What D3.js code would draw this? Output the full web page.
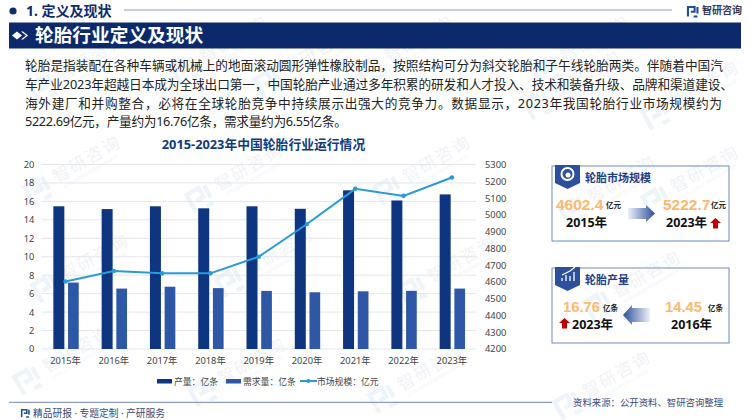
<!DOCTYPE html>
<html><head><meta charset="utf-8">
<script src="https://cdn.jsdelivr.net/npm/d3@7/dist/d3.min.js"></script>
<style>html,body{margin:0;padding:0;background:#fff}svg{display:block}
text{font-family:"Noto Sans","Noto Sans CJK SC",sans-serif}</style></head><body>
<svg id="c" width="750" height="420"></svg>
<script>
const years=["2015年","2016年","2017年","2018年","2019年","2020年","2021年","2022年","2023年"];
const production=[15.47,15.17,15.47,15.25,15.47,15.2,17.2,16.1,16.76];
const demand=[7.2,6.55,6.75,6.6,6.3,6.15,6.25,6.3,6.55];
const marketSize=[4602.4,4665,4651,4651,4750,4945,5155,5113,5222.7];
const leftTicks=[0,2,4,6,8,10,12,14,16,18,20];
const rightTicks=[4200,4300,4400,4500,4600,4700,4800,4900,5000,5100,5200,5300];
const seriesNames=["产量：亿条","需求量：亿条","市场规模：亿元"];
const paragraph=[
"轮胎是指装配在各种车辆或机械上的地面滚动圆形弹性橡胶制品，按照结构可分为斜交轮胎和子午线轮胎两类。伴随着中国汽",
"车产业2023年超越日本成为全球出口第一，中国轮胎产业通过多年积累的研发和人才投入、技术和装备升级、品牌和渠道建设、",
"海外建厂和并购整合，必将在全球轮胎竞争中持续展示出强大的竞争力。数据显示，2023年我国轮胎行业市场规模约为",
"5222.69亿元，产量约为16.76亿条，需求量约为6.55亿条。"];
const paragraphWidths=[698,708,697,322];
const marks=[[217,50],[402,50],[578,50],[75,68],[300,62],[570,85],[688,95],[70,170],[232,178],[420,170],[605,190],[688,180],[78,268],[262,262],[445,270],[630,285],[60,360],[235,372],[415,378],[600,385]];

const svg=d3.select("#c");
const defs=svg.append("defs");
function grad(id,x1,x2,c1,o1,c2,o2){const g=defs.append("linearGradient").attr("id",id).attr("x1",x1).attr("x2",x2).attr("y1",0).attr("y2",0);
 g.append("stop").attr("offset",0).attr("stop-color",c1).attr("stop-opacity",o1);
 g.append("stop").attr("offset",1).attr("stop-color",c2).attr("stop-opacity",o2);}
grad("gr",0,1,"#2c4f9e",.08,"#2c4f9e",1);
grad("gl",1,0,"#2c4f9e",.08,"#2c4f9e",1);

function logo(g,x,y,s,c){
 g.append("path").attr("transform",`translate(${x},${y}) scale(${s})`).attr("fill","none").attr("stroke",c).attr("stroke-width",2.2)
  .attr("d","M1 11V1H8V6H4M7 11H11M11 8V1");
}
// watermark
const wm=svg.append("g");
marks.forEach(([x,y])=>{
 const g=wm.append("g").attr("transform",`translate(${x},${y}) rotate(-30)`);
 logo(g,-50,-10,2,"#eef4fa");
 g.append("text").attr("x",-18).attr("y",5).attr("font-size",17).attr("fill","#f1f3f7").attr("letter-spacing",2).text("智研咨询");
 g.append("text").attr("x",-14).attr("y",13).attr("font-size",4).attr("fill","#f1f3f7").text("INTELLIGENCE RESEARCH GROUP");
});

// header
svg.append("circle").attr("cx",13).attr("cy",11).attr("r",3.6).attr("fill","#0d2b6e");
svg.append("text").attr("x",26).attr("y",16).attr("font-size",14).attr("font-weight",700).attr("fill","#0d2b6e").text("1. 定义及现状");
svg.append("line").attr("x1",124).attr("x2",672).attr("y1",10).attr("y2",10).attr("stroke","#8c9cc6").attr("stroke-width",1);
logo(svg,687,6,.95,"#1c4fa0");
svg.append("text").attr("x",702).attr("y",14).attr("font-size",10).attr("font-weight",700).attr("fill","#333b55").text("智研咨询");
svg.append("rect").attr("x",9).attr("y",22.5).attr("width",732).attr("height",26).attr("fill","#0c2a6b");
svg.append("path").attr("fill","#fff").attr("d","M12 35.5l5-4 5 4-5 4z M21 31.5h2l5 4-5 4h-2l5-4z");
svg.append("text").attr("x",35).attr("y",42).attr("font-size",18.7).attr("font-weight",700).attr("fill","#fff").text("轮胎行业定义及现状");
paragraph.forEach((t,i)=>svg.append("text").attr("x",25).attr("y",70.3+i*18.6).attr("font-size",12.7).attr("fill","#222")
 .attr("textLength",paragraphWidths[i]).attr("lengthAdjust","spacing").text(t));

// chart
svg.append("text").attr("x",263.5).attr("y",149).attr("text-anchor","middle").attr("font-size",12.8).attr("font-weight",700).attr("fill","#103a80").text("2015-2023年中国轮胎行业运行情况");
const x=d3.scaleBand().domain(years).range([41.4,476]);
const yL=d3.scaleLinear().domain([0,20]).range([349,164.5]);
const yR=d3.scaleLinear().domain([4200,5300]).range([349,164.5]);
const grid=svg.append("g");
grid.selectAll("line").data(leftTicks).join("line").attr("x1",41.4).attr("x2",476)
 .attr("y1",d=>yL(d)).attr("y2",d=>yL(d)).attr("stroke","#e4e6ec").attr("stroke-width",1);
const cx=d=>x(d)+x.bandwidth()/2;
svg.append("g").selectAll("rect").data(years).join("rect").attr("x",d=>cx(d)-12.2).attr("width",11)
 .attr("y",(d,i)=>yL(production[i])).attr("height",(d,i)=>yL(0)-yL(production[i])).attr("fill","#0d3580");
svg.append("g").selectAll("rect").data(years).join("rect").attr("x",d=>cx(d)+2.5).attr("width",10.7)
 .attr("y",(d,i)=>yL(demand[i])).attr("height",(d,i)=>yL(0)-yL(demand[i])).attr("fill","#2e58a6");
const line=d3.line().x((d,i)=>cx(years[i])).y(d=>yR(d));
svg.append("path").attr("d",line(marketSize)).attr("fill","none").attr("stroke","#2a9ad8").attr("stroke-width",2);
svg.append("g").selectAll("circle").data(marketSize).join("circle").attr("cx",(d,i)=>cx(years[i])).attr("cy",d=>yR(d)).attr("r",2.3).attr("fill","#2a9ad8");
function styleAxis(g){g.select(".domain").remove();g.selectAll("line").remove();g.selectAll("text").attr("font-size",9.3).attr("fill","#444").style("font-family",'"Noto Sans","Noto Sans CJK SC"');}
svg.append("g").attr("transform","translate(41.4,0)").call(d3.axisLeft(yL).tickValues(leftTicks).tickSize(0).tickPadding(7)).call(styleAxis);
svg.append("g").attr("transform","translate(476,0)").call(d3.axisRight(yR).tickValues(rightTicks).tickFormat(d3.format("d")).tickSize(0).tickPadding(9)).call(styleAxis);
svg.append("g").attr("transform","translate(0,349)").call(d3.axisBottom(x).tickSize(0).tickPadding(8)).call(styleAxis);
// legend
const lx=[157,226,300], lc=["#0d3580","#2e58a6","#2a9ad8"];
seriesNames.forEach((n,i)=>{
 if(i<2) svg.append("rect").attr("x",lx[i]).attr("y",379).attr("width",15).attr("height",4.5).attr("fill",lc[i]);
 else {svg.append("line").attr("x1",lx[i]).attr("x2",lx[i]+17).attr("y1",381).attr("y2",381).attr("stroke",lc[i]).attr("stroke-width",2);
  svg.append("circle").attr("cx",lx[i]+8.5).attr("cy",381).attr("r",2).attr("fill",lc[i]);}
 svg.append("text").attr("x",lx[i]+17).attr("y",384.5).attr("font-size",8.8).attr("fill","#444").text(n);
});

// panels
function panel(y,title,tw){
 svg.append("rect").attr("x",552).attr("y",y).attr("width",177).attr("height",75).attr("fill","none").attr("stroke","#6d8cc4").attr("stroke-width",1);
 svg.append("path").attr("fill","#2c4f9e").attr("d",`M555 ${y-1}H580V${y+17}L567.5 ${y+23}L555 ${y+17}Z`);
 svg.append("text").attr("x",585).attr("y",y+16).attr("font-size",tw).attr("font-weight",700).attr("fill","#1d3f8a").text(title);
}
function t(x,y,s,fs,c,w){return svg.append("text").attr("x",x).attr("y",y).attr("font-size",fs).attr("font-weight",w||700).attr("fill",c).text(s);}
const num=(x,y,s,fs)=>t(x,y,s,fs,"#fdb96e").style("font-family",'"Liberation Sans",sans-serif');
const up=(x,y)=>svg.append("path").attr("fill","#c00000").attr("d",`M${x} ${y+5}L${x+5.5} ${y}L${x+11} ${y+5}H${x+8}V${y+10.5}H${x+3}V${y+5}Z`);
panel(166,"轮胎市场规模",11);
svg.append("circle").attr("cx",567.5).attr("cy",174).attr("r",6).attr("fill","none").attr("stroke","#fff").attr("stroke-width",2);
svg.append("circle").attr("cx",568).attr("cy",175).attr("r",2.5).attr("fill","#fff");
num(556,209.5,"4602.4",15.5); t(606,208,"亿元",7.5,"#222");
t(566,227,"2015年",12.5,"#111");
svg.append("path").attr("fill","url(#gr)").attr("d","M628 208H646V205L655 213.5L646 222V219H628Z");
num(663,209.5,"5222.7",15.5); t(711,208,"亿元",7.5,"#222");
t(666,227,"2023年",12.5,"#111"); up(710,218);
panel(268,"轮胎产量",11);
svg.append("path").attr("fill","none").attr("stroke","#fff").attr("stroke-width",1.3).attr("d","M562 281V278M566 281V275M570 281V276M574 281V272M562 275L570 271L575 267");
num(563,312,"16.76",14.8); t(603,310.5,"亿条",7.5,"#222");
up(559,318); t(572,329,"2023年",12.5,"#111");
svg.append("path").attr("fill","url(#gl)").attr("d","M650 308H632V305L623 315L632 325V322H650Z");
num(665,312,"14.45",14.8); t(708,310.5,"亿条",7.5,"#222");
t(671,329,"2016年",12.5,"#111");

// footer
svg.append("line").attr("x1",9).attr("x2",552).attr("y1",402.3).attr("y2",402.3).attr("stroke","#6f86bd").attr("stroke-width",1);
logo(svg,21,409,.72,"#1c4fa0");
svg.append("text").attr("x",33).attr("y",417).attr("font-size",10).attr("fill","#3a4a7a").attr("textLength",132).attr("lengthAdjust","spacingAndGlyphs").text("精品研报 · 专题定制 · 产研服务");
svg.append("text").attr("x",573).attr("y",405.5).attr("font-size",9.4).attr("fill","#3a4a7a").text("资料来源：公开资料、智研咨询整理");
</script></body></html>
